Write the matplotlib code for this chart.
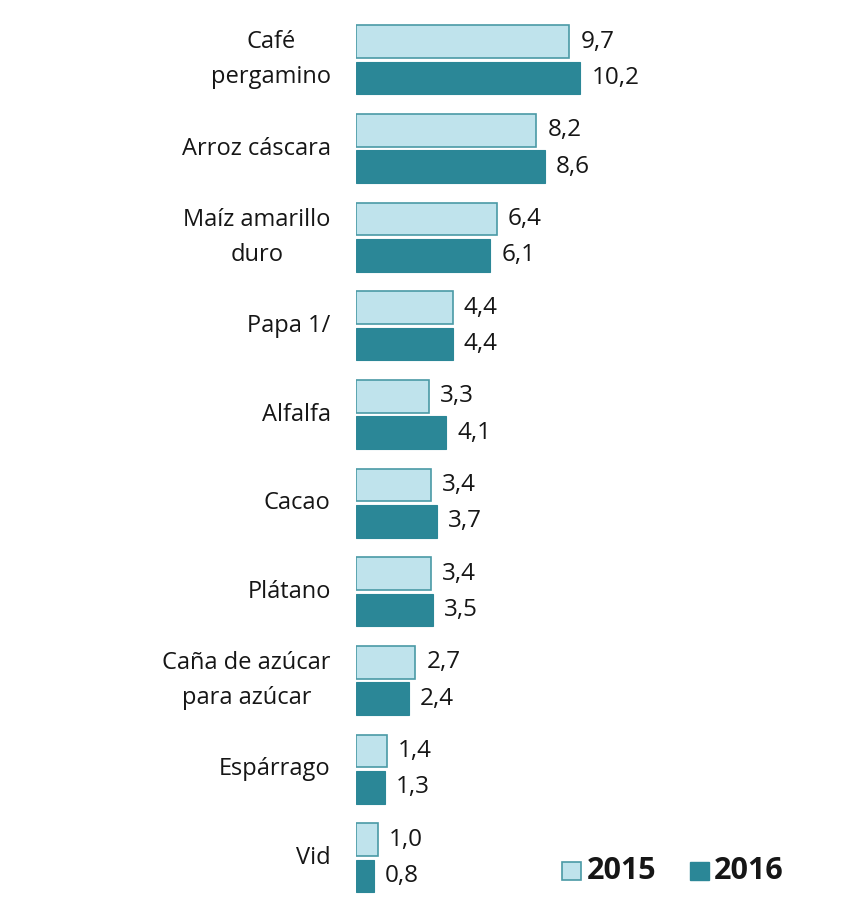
import matplotlib.pyplot as plt
import numpy as np

plt.rcParams['font.family'] = ['Open Sans', 'DejaVu Sans']

# Data
categories = ["Café\npergamino", "Arroz cáscara", "Maíz amarillo\nduro", "Papa 1/",
              "Alfalfa", "Cacao", "Plátano", "Caña de azúcar\npara azúcar",
              "Espárrago", "Vid"]
values_2015 = [9.7, 8.2, 6.4, 4.4, 3.3, 3.4, 3.4, 2.7, 1.4, 1.0]
values_2016 = [10.2, 8.6, 6.1, 4.4, 4.1, 3.7, 3.5, 2.4, 1.3, 0.8]
series_labels = ["2015", "2016"]

light = '#bfe3ec'
light_edge = '#4a9aa6'
dark = '#2b8797'
text_color = '#161616'

W, H = 841, 898
fig = plt.figure(figsize=(W / 100, H / 100), dpi=100)
ax = fig.add_axes([356 / W, 1 - 895 / H, 1 - 356 / W, 875 / H])

y = np.arange(len(categories))
h = 0.37
off = 0.205
ax.barh(y - off, values_2015, height=h, color=light, edgecolor=light_edge, linewidth=1.2)
ax.barh(y + off, values_2016, height=h, color=dark, edgecolor=dark, linewidth=0.8)

def fmt(v):
    return f"{v:.1f}".replace('.', ',')

for yi, v in zip(y, values_2015):
    ax.text(v + 0.5, yi - off, fmt(v), va='center', ha='left', fontsize=17.5, color=text_color)
for yi, v in zip(y, values_2016):
    ax.text(v + 0.5, yi + off, fmt(v), va='center', ha='left', fontsize=17.5, color=text_color)

for yi, c in zip(y, categories):
    ax.text(-1.15, yi, c, va='center', ha='right', multialignment='center',
            fontsize=17, color=text_color, linespacing=1.6)

ax.set_xlim(0, (W - 356) / 22.0)
ax.set_ylim(9.42, -0.45)
ax.axis('off')

# Legend
fig.patches.append(plt.Rectangle((562 / W, 1 - 880 / H), 19 / W, 18 / H, transform=fig.transFigure,
                                 facecolor=light, edgecolor=light_edge, linewidth=1.2))
fig.text(587 / W, 1 - 871 / H, series_labels[0], fontsize=22, fontweight='bold', va='center',
         color=text_color)
fig.patches.append(plt.Rectangle((690 / W, 1 - 880 / H), 19 / W, 18 / H, transform=fig.transFigure,
                                 facecolor=dark, edgecolor=dark))
fig.text(714 / W, 1 - 871 / H, series_labels[1], fontsize=22, fontweight='bold', va='center',
         color=text_color)

fig.savefig('out.png', dpi=100)
